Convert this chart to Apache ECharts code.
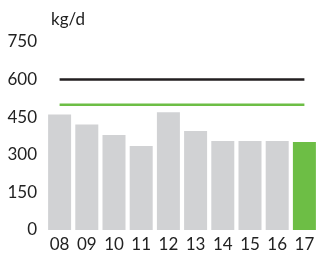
<!DOCTYPE html>
<html>
<head>
<meta charset="utf-8">
<script src="https://cdn.jsdelivr.net/npm/echarts@6/dist/echarts.min.js"></script>
<style>
  html, body { margin: 0; padding: 0; background: #fff; }
  #main { width: 318px; height: 253px; }
</style>
</head>
<body>
<div id="main"></div>
<script>
const years = ["08", "09", "10", "11", "12", "13", "14", "15", "16", "17"];
const usage = [461, 421, 379, 335, 470, 395, 355, 355, 355, 351];
const limitBlack = [600, 600, 600, 600, 600, 600, 600, 600, 600, 600];
const limitGreen = [500, 500, 500, 500, 500, 500, 500, 500, 500, 500];
const yTicks = { min: 0, max: 750, interval: 150 };

const font = "Lato, 'Open Sans', sans-serif";

let option = {
  animation: false,
  title: {
    text: "kg/d",
    left: 46,
    top: 6,
    textStyle: { fontFamily: font, fontSize: 17, fontWeight: "normal", color: "#222" },
  },
  grid: { left: 46, top: 42, width: 275, bottom: 22 },
  xAxis: {
    type: "category",
    data: years,
    axisLine: { show: false },
    axisTick: { show: false },
    axisLabel: { fontFamily: font, fontSize: 17, color: "#222", margin: 6 },
  },
  yAxis: {
    type: "value",
    min: yTicks.min,
    max: yTicks.max,
    interval: yTicks.interval,
    splitLine: { show: false },
    axisLine: { show: false },
    axisTick: { show: false },
    axisLabel: { fontFamily: font, fontSize: 17, color: "#222", margin: 9 },
  },
  series: [
    {
      type: "bar",
      data: usage.map((v, i) => ({
        value: v,
        itemStyle: { color: i === usage.length - 1 ? "#6dbe45" : "#d1d2d4" },
      })),
      barWidth: 23,
    },
    {
      type: "line",
      data: limitBlack,
      showSymbol: false,
      lineStyle: { color: "#231f20", width: 2.5 },
    },
    {
      type: "line",
      data: limitGreen,
      showSymbol: false,
      lineStyle: { color: "#6dbe45", width: 2.5 },
    },
  ],
};

var myChart = echarts.init(document.getElementById("main"));
myChart.setOption(option);
</script>
</body>
</html>
